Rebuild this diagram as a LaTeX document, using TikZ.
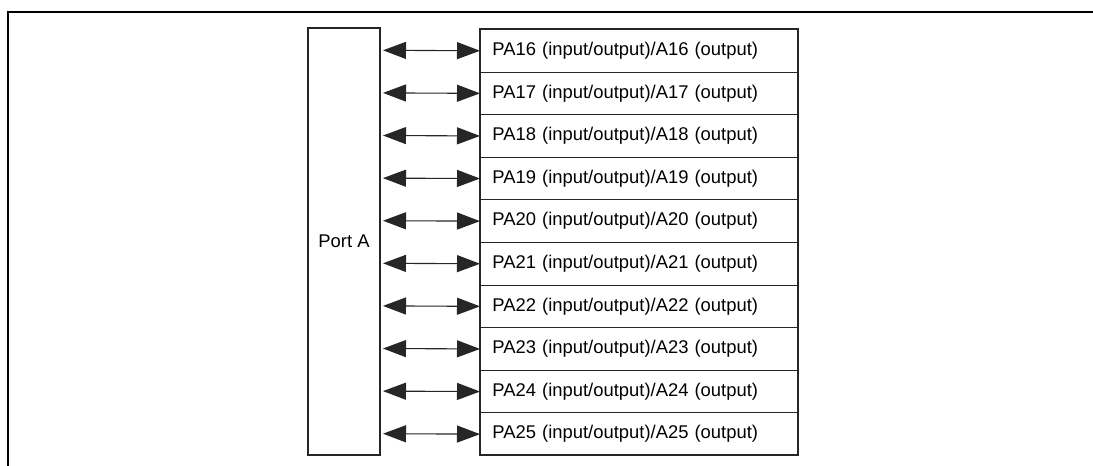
\documentclass[tikz,border=0pt]{standalone}
\usepackage{fontspec}
\setmainfont{Liberation Sans}
\usetikzlibrary{arrows.meta}
\begin{document}
\begin{tikzpicture}[x=1pt,y=-1pt,
  frameline/.style={line width=2.6pt},
  boxline/.style={line width=1.8pt, draw=black!85},
  rowbox/.style={draw=black!85, line width=0.9pt, minimum width=318pt, minimum height=42.6pt, inner sep=0pt, anchor=north west, text width=300pt, align=left, font=\fontsize{18.4}{20}\selectfont},
  biarrow/.style={line width=1.1pt, draw=black!85, {Triangle[length=23pt,width=17pt]}-{Triangle[length=23pt,width=17pt]}}
]
\useasboundingbox (0,0) rectangle (1093,466);
\fill[white] (0,0) rectangle (1093,466);
% outer frame (partially visible)
\coordinate (f1) at (8,466);
\coordinate (f2) at (8,12);
\coordinate (f3) at (1093,12);
\draw[frameline] (f1) -- (f2) -- (f3);
% Port A box
\node[draw=black!85, line width=1.8pt, minimum width=72pt, minimum height=427pt, inner sep=0pt, font=\fontsize{18.4}{20}\selectfont] (port) at (344,241.5) {Port A};
% rows
\foreach \i [count=\k from 0] in {16,...,25}{
  \node[rowbox] (r\i) at (480,{29+42.6*\k}) {\hspace*{3pt}PA\i{} (input/output)/A\i{} (output)};
  \coordinate (a\i) at (383,{29+42.6*\k+21.3});
  \draw[biarrow] (a\i) -- (r\i.west);
}
\draw[boxline] (480,29) rectangle (798,455);
\end{tikzpicture}
\end{document}
